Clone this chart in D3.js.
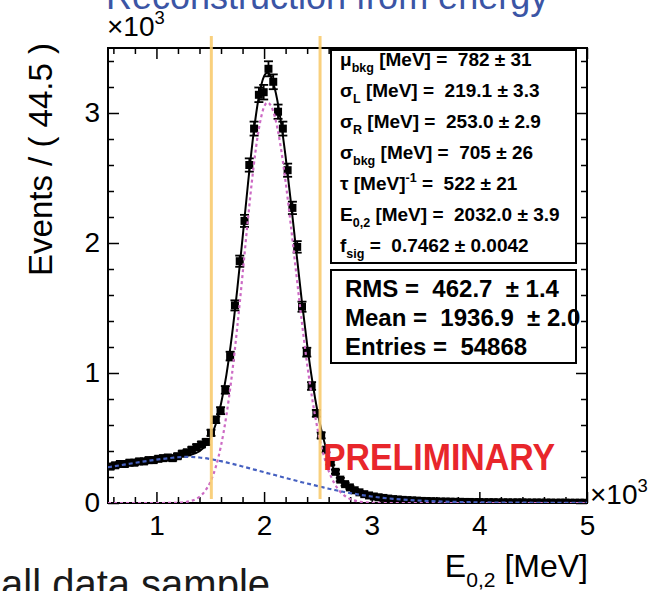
<!DOCTYPE html>
<html>
<head>
<meta charset="utf-8">
<script src="https://cdn.jsdelivr.net/npm/d3@7"></script>
<style>
  html, body { margin: 0; padding: 0; background: #ffffff; }
  svg { display: block; }
  text { font-family: "Liberation Sans", Arial, Helvetica, sans-serif; white-space: pre; }
</style>
</head>
<body>
<svg id="chart" width="648" height="591"></svg>
<script>
// ---- Histogram binning (E in units of 10^3 MeV) ----
const xMin = 0.55, xMax = 5.0, binWidth = 0.0445;
const yMin = 0, yMax = 3.5;

// Events per 44.5 MeV bin (x10^3), 100 bins from 0.55 to 5.0
const eventsPerBin = [
  0.280, 0.290, 0.300, 0.300, 0.310, 0.310, 0.320, 0.320, 0.330, 0.330,
  0.340, 0.345, 0.350, 0.345, 0.360, 0.380, 0.390, 0.410, 0.430, 0.450,
  0.470, 0.540, 0.640, 0.710, 0.870, 1.130, 1.520, 1.860, 2.170, 2.600,
  2.880, 3.140, 3.160, 3.340, 3.240, 3.010, 2.880, 2.560, 2.270, 1.970,
  1.510, 1.160, 0.900, 0.690, 0.520, 0.410, 0.310, 0.240, 0.180, 0.145,
  0.120, 0.098, 0.082, 0.068, 0.058, 0.050, 0.044, 0.039, 0.034, 0.030,
  0.027, 0.024, 0.022, 0.020, 0.018, 0.016, 0.015, 0.014, 0.012, 0.011,
  0.011, 0.010, 0.009, 0.009, 0.008, 0.008, 0.007, 0.007, 0.006, 0.006,
  0.006, 0.005, 0.005, 0.005, 0.004, 0.005, 0.004, 0.004, 0.003, 0.004,
  0.003, 0.003, 0.003, 0.002, 0.003, 0.002, 0.002, 0.002, 0.002, 0.002
];

// Fit model sampled along E (x10^3 MeV)
const fitE = [0.55, 0.70, 0.85, 1.00, 1.15, 1.20, 1.30, 1.40, 1.45, 1.50,
              1.55, 1.60, 1.65, 1.70, 1.75, 1.80, 1.85, 1.90, 1.95, 2.00,
              2.03, 2.06, 2.10, 2.15, 2.20, 2.25, 2.30, 2.35, 2.40, 2.45,
              2.50, 2.55, 2.60, 2.65, 2.70, 2.75, 2.80, 2.90, 3.00, 3.10,
              3.20, 3.50, 4.00, 4.50, 5.00];
const fitTotal = [0.275, 0.295, 0.315, 0.333, 0.349, 0.354, 0.367, 0.398, 0.435, 0.499,
                  0.604, 0.763, 0.986, 1.279, 1.638, 2.038, 2.452, 2.828, 3.119, 3.284,
                  3.310, 3.285, 3.186, 2.967, 2.664, 2.307, 1.929, 1.558, 1.219, 0.927,
                  0.687, 0.499, 0.358, 0.257, 0.186, 0.139, 0.107, 0.071, 0.052, 0.040,
                  0.032, 0.016, 0.005, 0.002, 0.001];
const fitSignal = [0, 0, 0, 0, 0.001, 0.002, 0.012, 0.048, 0.090, 0.161,
                   0.274, 0.441, 0.674, 0.977, 1.346, 1.757, 2.182, 2.569, 2.871, 3.047,
                   3.080, 3.061, 2.971, 2.763, 2.471, 2.125, 1.758, 1.398, 1.069, 0.787,
                   0.557, 0.379, 0.248, 0.156, 0.094, 0.055, 0.031, 0.009, 0.002, 0,
                   0, 0, 0, 0, 0];
const fitBackground = [0.275, 0.295, 0.315, 0.333, 0.348, 0.352, 0.355, 0.350, 0.345, 0.338,
                       0.330, 0.322, 0.312, 0.302, 0.292, 0.281, 0.270, 0.259, 0.248, 0.237,
                       0.230, 0.224, 0.215, 0.204, 0.193, 0.182, 0.171, 0.160, 0.150, 0.140,
                       0.130, 0.120, 0.110, 0.101, 0.092, 0.084, 0.076, 0.062, 0.050, 0.040,
                       0.032, 0.016, 0.005, 0.002, 0.001];

// Selection window edges (x10^3 MeV)
const windowEdges = [1.51, 2.52];

// Axis ticks
const xMajorTicks = [1, 2, 3, 4, 5];
const yMajorTicks = [0, 1, 2, 3];

// Fit result panel: [text, "sub" | "sup" | undefined]
const fitParamRows = [
  [["\u03bc"], ["bkg", "sub"], [" [MeV] =  782 \u00b1 31"]],
  [["\u03c3"], ["L", "sub"], [" [MeV] =  219.1 \u00b1 3.3"]],
  [["\u03c3"], ["R", "sub"], [" [MeV] =  253.0 \u00b1 2.9"]],
  [["\u03c3"], ["bkg", "sub"], [" [MeV] =  705 \u00b1 26"]],
  [["\u03c4 [MeV]"], ["-1", "sup"], [" =  522 \u00b1 21"]],
  [["E"], ["0,2", "sub"], [" [MeV] =  2032.0 \u00b1 3.9"]],
  [["f"], ["sig", "sub"], [" =  0.7462 \u00b1 0.0042"]]
];

// Histogram statistics panel
const statRows = [
  "RMS =  462.7  \u00b1 1.4",
  "Mean =  1936.9  \u00b1 2.0",
  "Entries =  54868"
];

// ---- Layout ----
const svg = d3.select("#chart");
const frame = { left: 108, right: 587, top: 48, bottom: 503 };

const x = d3.scaleLinear().domain([xMin, xMax]).range([frame.left, frame.right]);
const y = d3.scaleLinear().domain([yMin, yMax]).range([frame.bottom, frame.top]);

const xMinorTicks = d3.range(0.6, 5.0001, 0.2).map(v => +v.toFixed(2))
  .filter(v => !xMajorTicks.includes(v));
const yMinorTicks = d3.range(0.2, 3.5001, 0.2).map(v => +v.toFixed(2))
  .filter(v => !yMajorTicks.includes(v));

// Rich text helper (sub/superscripts)
function richText(parent, px, py, segs, size, opts = {}) {
  const t = parent.append("text")
    .attr("x", px).attr("y", py)
    .attr("font-size", size)
    .attr("font-weight", opts.weight || "normal")
    .attr("fill", opts.fill || "#000")
    .attr("text-anchor", opts.anchor || "start");
  if (opts.transform) t.attr("transform", opts.transform);
  let shift = 0;
  segs.forEach(([s, kind]) => {
    const target = kind === "sub" ? size * 0.32 : kind === "sup" ? -size * 0.42 : 0;
    const ts = t.append("tspan").attr("dy", target - shift).text(s);
    if (kind) ts.attr("font-size", size * 0.66);
    shift = target;
  });
  return t;
}

// Clip region for the plotted marks
svg.append("defs").append("clipPath").attr("id", "plotClip")
  .append("rect")
  .attr("x", frame.left).attr("y", frame.top)
  .attr("width", frame.right - frame.left)
  .attr("height", frame.bottom - frame.top);

// Heading above the frame (partly outside the canvas)
svg.append("text")
  .attr("x", 106).attr("y", 9)
  .attr("font-family", "'Open Sans', sans-serif")
  .attr("font-size", 36)
  .attr("fill", "#3b55a5")
  .text("Reconstruction from energy");

// Caption at the bottom-left
svg.append("text")
  .attr("x", 1).attr("y", 598)
  .attr("font-family", "'Open Sans', sans-serif")
  .attr("font-size", 40)
  .attr("fill", "#1a1a1a")
  .text("all data sample");

// ---- Axes (ticks drawn inward on all four sides) ----
function styleAxis(g) {
  g.select(".domain").remove();
  g.selectAll(".tick line").attr("stroke", "#000").attr("stroke-width", 1.5);
  g.selectAll("text")
    .attr("font-family", "'Liberation Sans', Arial, sans-serif")
    .attr("font-size", 28).attr("fill", "#000");
}

svg.append("g").attr("transform", `translate(0,${frame.bottom})`)
  .call(d3.axisBottom(x).tickValues(xMajorTicks).tickSize(-11).tickPadding(12).tickFormat(d3.format("d")))
  .call(styleAxis);
svg.append("g").attr("transform", `translate(0,${frame.bottom})`)
  .call(d3.axisBottom(x).tickValues(xMinorTicks).tickSize(-6).tickFormat(""))
  .call(styleAxis);
svg.append("g").attr("transform", `translate(0,${frame.top})`)
  .call(d3.axisTop(x).tickValues(xMajorTicks).tickSize(-11).tickFormat(""))
  .call(styleAxis);
svg.append("g").attr("transform", `translate(0,${frame.top})`)
  .call(d3.axisTop(x).tickValues(xMinorTicks).tickSize(-6).tickFormat(""))
  .call(styleAxis);

svg.append("g").attr("transform", `translate(${frame.left},0)`)
  .call(d3.axisLeft(y).tickValues(yMajorTicks).tickSize(-11).tickPadding(8).tickFormat(d3.format("d")))
  .call(styleAxis);
svg.append("g").attr("transform", `translate(${frame.left},0)`)
  .call(d3.axisLeft(y).tickValues(yMinorTicks).tickSize(-6).tickFormat(""))
  .call(styleAxis);
svg.append("g").attr("transform", `translate(${frame.right},0)`)
  .call(d3.axisRight(y).tickValues(yMajorTicks).tickSize(-11).tickFormat(""))
  .call(styleAxis);
svg.append("g").attr("transform", `translate(${frame.right},0)`)
  .call(d3.axisRight(y).tickValues(yMinorTicks).tickSize(-6).tickFormat(""))
  .call(styleAxis);

// Frame
svg.append("rect")
  .attr("x", frame.left).attr("y", frame.top)
  .attr("width", frame.right - frame.left)
  .attr("height", frame.bottom - frame.top)
  .attr("fill", "none").attr("stroke", "#000").attr("stroke-width", 2);

// Exponent labels
richText(svg, frame.left - 1, 36, [["\u00d710"], ["3", "sup"]], 28);
richText(svg, frame.right + 3, 504, [["\u00d710"], ["3", "sup"]], 28);

// Axis titles
richText(svg, 588, 577, [["E"], ["0,2", "sub"], [" [MeV]"]], 32, { anchor: "end" });
svg.append("text")
  .attr("transform", "translate(52,43) rotate(-90)")
  .attr("text-anchor", "end")
  .attr("font-size", 33)
  .text("Events / ( 44.5 )");

// ---- Data points with Poisson error bars ----
const marks = svg.append("g").attr("clip-path", "url(#plotClip)");
const bins = eventsPerBin.map((v, i) => ({
  e: xMin + (i + 0.5) * binWidth,
  v,
  err: Math.sqrt(v * 1000) / 1000
}));

const pts = marks.append("g").selectAll("g").data(bins).join("g");
pts.append("line")
  .attr("x1", d => x(d.e)).attr("x2", d => x(d.e))
  .attr("y1", d => y(d.v + d.err)).attr("y2", d => y(d.v - d.err))
  .attr("stroke", "#000").attr("stroke-width", 1.8);
pts.append("line")
  .attr("x1", d => x(d.e - binWidth / 2)).attr("x2", d => x(d.e + binWidth / 2))
  .attr("y1", d => y(d.v)).attr("y2", d => y(d.v))
  .attr("stroke", "#000").attr("stroke-width", 1.8);
[1, -1].forEach(sgn => {
  pts.append("line")
    .attr("x1", d => x(d.e) - 4.5).attr("x2", d => x(d.e) + 4.5)
    .attr("y1", d => y(d.v + sgn * d.err)).attr("y2", d => y(d.v + sgn * d.err))
    .attr("stroke", "#000").attr("stroke-width", 1.8);
});
pts.append("rect")
  .attr("x", d => x(d.e) - 4).attr("y", d => y(d.v) - 4)
  .attr("width", 8).attr("height", 8)
  .attr("fill", "#000");

// ---- Fit curves ----
const curve = vals => d3.line()
  .x((d, i) => x(fitE[i]))
  .y(d => y(d))
  .curve(d3.curveMonotoneX)(vals);

marks.append("path").attr("d", curve(fitTotal))
  .attr("fill", "none").attr("stroke", "#000").attr("stroke-width", 2);
marks.append("path").attr("d", curve(fitSignal))
  .attr("fill", "none").attr("stroke", "#cc6ac4").attr("stroke-width", 2.2)
  .attr("stroke-dasharray", "3,3");
marks.append("path").attr("d", curve(fitBackground))
  .attr("fill", "none").attr("stroke", "#4560c0").attr("stroke-width", 2.2)
  .attr("stroke-dasharray", "4,3");

// ---- Selection window lines ----
svg.append("g").selectAll("line").data(windowEdges).join("line")
  .attr("x1", d => x(d)).attr("x2", d => x(d))
  .attr("y1", 36).attr("y2", 499)
  .attr("stroke", "#f9cc70").attr("stroke-width", 3).attr("opacity", 0.9);

// ---- Fit parameter panel ----
svg.append("rect")
  .attr("x", 331).attr("y", 50).attr("width", 245).attr("height", 213)
  .attr("fill", "#fff").attr("stroke", "#000").attr("stroke-width", 2);
const rowBase = [66, 97, 128, 159, 190, 221, 252];
fitParamRows.forEach((segs, i) => {
  richText(svg, 340, rowBase[i], segs, 19, { weight: "bold" });
});

// ---- Statistics panel ----
svg.append("rect")
  .attr("x", 331).attr("y", 270).attr("width", 245).attr("height", 93)
  .attr("fill", "#fff").attr("stroke", "#000").attr("stroke-width", 2);
const statBase = [297, 326, 355];
statRows.forEach((s, i) => {
  svg.append("text")
    .attr("x", 345).attr("y", statBase[i])
    .attr("font-size", 24).attr("font-weight", "bold")
    .text(s);
});

// ---- Watermark ----
svg.append("text")
  .attr("x", 323).attr("y", 470)
  .attr("font-family", "Lato, 'Open Sans', sans-serif")
  .attr("font-weight", "bold")
  .attr("font-size", 36)
  .attr("fill", "#e8262b")
  .attr("textLength", 232)
  .attr("lengthAdjust", "spacingAndGlyphs")
  .text("PRELIMINARY");
</script>
</body>
</html>
